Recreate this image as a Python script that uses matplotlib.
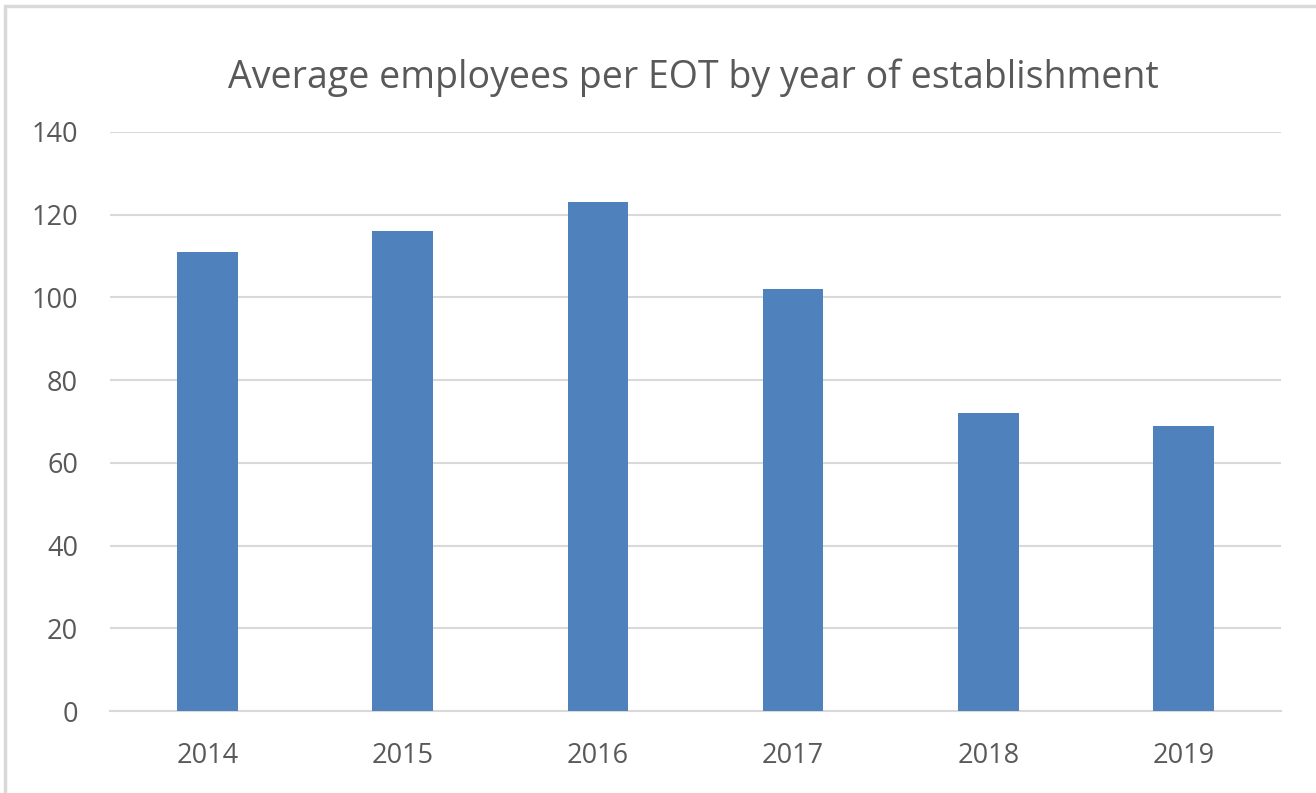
import matplotlib
matplotlib.use("Agg")
import matplotlib.pyplot as plt
from matplotlib.patches import Rectangle

years = ["2014", "2015", "2016", "2017", "2018", "2019"]
values = [111, 116, 123, 102, 72, 69]
yticks = [0, 20, 40, 60, 80, 100, 120, 140]

plt.rcParams['font.family'] = ['Open Sans', 'DejaVu Sans']
W, H = 1316, 793
fig = plt.figure(figsize=(W/100, H/100), dpi=100)
ax = fig.add_axes([110/W, 82/H, (1281-110)/W, (711-132)/H])

x = range(len(years))
ax.bar(x, values, width=0.31, color="#4f81bd", zorder=3)
ax.set_xlim(-0.5, len(years)-0.5)
ax.set_ylim(0, 140)
ax.set_yticks(yticks)
ax.set_xticks(list(x))
ax.set_xticklabels(years)
ax.grid(axis='y', color='#d9d9d9', linewidth=1.5, zorder=0)
for s in ['top', 'right', 'left']:
    ax.spines[s].set_visible(False)
ax.spines['bottom'].set_color('#d9d9d9')
ax.spines['bottom'].set_linewidth(1.5)
ax.tick_params(axis='both', length=0, labelsize=19.5, colors='#595959')
ax.tick_params(axis='y', pad=23)
ax.tick_params(axis='x', pad=22)

fig.text(693/W, 1-78/H, "Average employees per EOT by year of establishment",
         ha='center', va='center', fontsize=27, color='#595959')

fig.patches.append(Rectangle((5/W, -0.1), 1.2, (H-6)/H + 0.1, transform=fig.transFigure,
                             fill=False, edgecolor='#d9d9d9', linewidth=2.5))

fig.savefig("out.png", dpi=100)
